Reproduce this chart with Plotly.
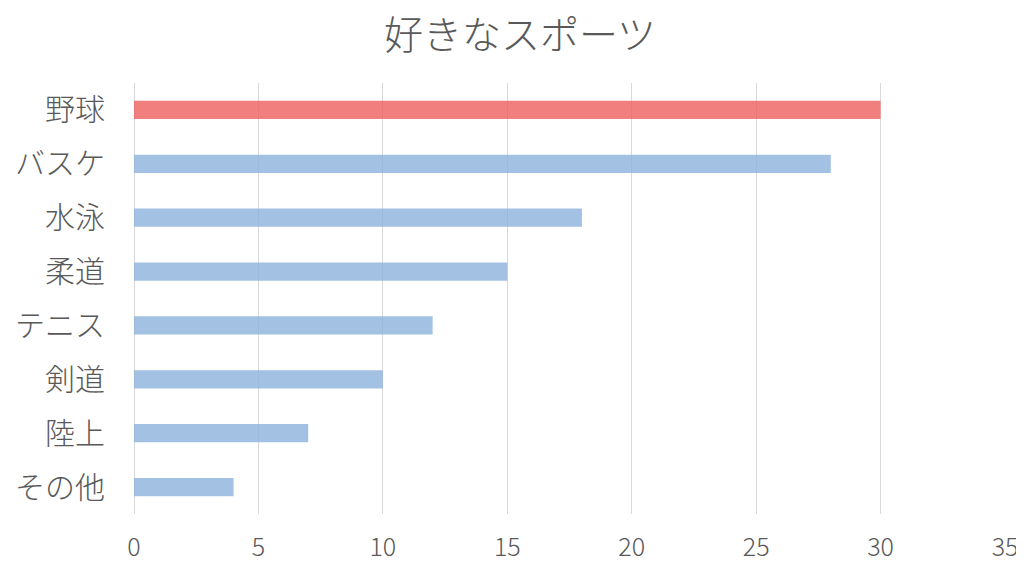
import plotly.graph_objects as go

# データ
sports = ["野球", "バスケ", "水泳", "柔道", "テニス", "剣道", "陸上", "その他"]
votes = [30, 28, 18, 15, 12, 10, 7, 4]
x_ticks = [0, 5, 10, 15, 20, 25, 30, 35]

FONT = "Noto Sans CJK JP"
GRAY = "#595959"

colors = ["#ec5f5c" if i == 0 else "#8cb2dc" for i in range(len(sports))]

fig = go.Figure(
    go.Bar(
        x=votes,
        y=sports,
        orientation="h",
        width=0.34,
        marker=dict(color=colors, opacity=0.8, line=dict(width=0)),
    )
)

# ページの余白(8px)ぶんを差し引いた余白
fig.update_layout(
    width=1024,
    height=566,
    paper_bgcolor="white",
    plot_bgcolor="white",
    margin=dict(l=126, r=27, t=75, b=60),
    showlegend=False,
    font=dict(family=FONT, color=GRAY, weight=300),
    title=dict(
        text="好きなスポーツ",
        x=0.5,
        xanchor="center",
        y=0.952,
        yanchor="middle",
        font=dict(family=FONT, size=39, color=GRAY, weight=300),
    ),
)

fig.update_xaxes(
    range=[0, 35],
    tickvals=x_ticks,
    automargin=False,
    showgrid=True,
    gridcolor="#d9d9d9",
    gridwidth=1,
    zeroline=True,
    zerolinecolor="#d9d9d9",
    zerolinewidth=1,
    showline=False,
    ticks="",
    tickfont=dict(size=25, color=GRAY, weight=300),
    ticklabelstandoff=16,
)

fig.update_yaxes(
    categoryorder="array",
    categoryarray=sports[::-1],
    automargin=False,
    showgrid=False,
    zeroline=False,
    showline=False,
    ticks="",
    tickfont=dict(size=30, color=GRAY, weight=300),
    ticklabelstandoff=28,
)

fig.write_html("out.html")
